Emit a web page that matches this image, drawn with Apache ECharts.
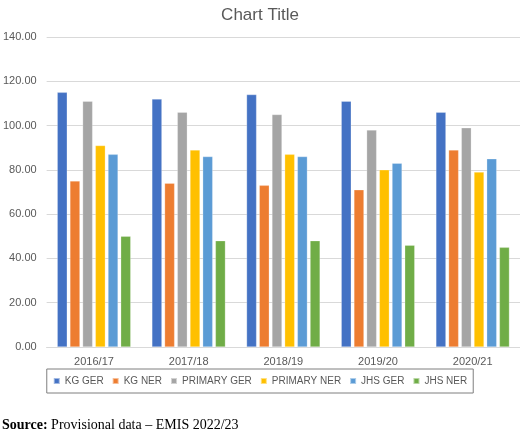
<!DOCTYPE html>
<html>
<head>
<meta charset="utf-8">
<script src="https://cdn.jsdelivr.net/npm/echarts@6/dist/echarts.min.js"></script>
<style>
  html, body { margin: 0; padding: 0; background: #fff; }
  #chart { width: 520px; height: 437px; }
</style>
</head>
<body>
<div id="chart"></div>
<script>
// data
const years = ['2016/17', '2017/18', '2018/19', '2019/20', '2020/21']
const kgGer = [115, 112, 114, 111, 106]
const kgNer = [75, 74, 73, 71, 89]
const primaryGer = [111, 106, 105, 98, 99]
const primaryNer = [91, 89, 87, 80, 79]
const jhsGer = [87, 86, 86, 83, 85]
const jhsNer = [50, 48, 48, 46, 45]

const seriesNames = ['KG GER', 'KG NER', 'PRIMARY GER', 'PRIMARY NER', 'JHS GER', 'JHS NER']
const seriesData = [kgGer, kgNer, primaryGer, primaryNer, jhsGer, jhsNer]
const colors = ['#4472c4', '#ed7d31', '#a5a5a5', '#ffc000', '#5b9bd5', '#70ad47']

const font = 'Liberation Sans, Noto Sans, sans-serif'
const chart = echarts.init(document.getElementById('chart'))

chart.setOption({
  animation: false,
  color: colors,
  title: {
    text: 'Chart Title',
    left: 'center',
    top: 2,
    textStyle: { color: '#595959', fontSize: 17, fontWeight: 'normal', fontFamily: font }
  },
  legend: {
    data: seriesNames,
    bottom: 44,
    left: 'center',
    icon: 'rect',
    itemWidth: 6,
    itemHeight: 6,
    itemGap: 8,
    padding: [7, 6],
    borderColor: '#7f7f7f',
    borderWidth: 1,
    textStyle: { color: '#595959', fontSize: 10, fontFamily: font }
  },
  grid: { left: 44, right: 0, top: 37, bottom: 90 },
  xAxis: {
    type: 'category',
    data: years,
    axisLine: { lineStyle: { color: '#d9d9d9' } },
    axisTick: { show: false },
    axisLabel: { color: '#595959', fontSize: 11, fontFamily: font, margin: 9 }
  },
  yAxis: {
    type: 'value',
    min: 0,
    max: 140,
    interval: 20,
    axisLabel: {
      color: '#595959',
      fontSize: 11,
      fontFamily: font,
      margin: 10,
      formatter: v => v.toFixed(2)
    },
    splitLine: { lineStyle: { color: '#d9d9d9' } }
  },
  series: seriesNames.map((name, i) => ({
    name: name,
    type: 'bar',
    data: seriesData[i],
    barWidth: 10,
    barGap: '27%',
    itemStyle: { borderColor: 'rgba(255,255,255,0.5)', borderWidth: 0.5 }
  })),
  graphic: [{
    type: 'text',
    left: 2,
    top: 418,
    style: {
      text: '{b|Source:} Provisional data – EMIS 2022/23',
      fontFamily: 'Liberation Serif, serif',
      fontSize: 14,
      fill: '#000',
      rich: {
        b: { fontWeight: 'bold', fontFamily: 'Liberation Serif, serif', fontSize: 14 }
      }
    }
  }]
})

window.addEventListener('resize', () => chart.resize())
</script>
</body>
</html>
